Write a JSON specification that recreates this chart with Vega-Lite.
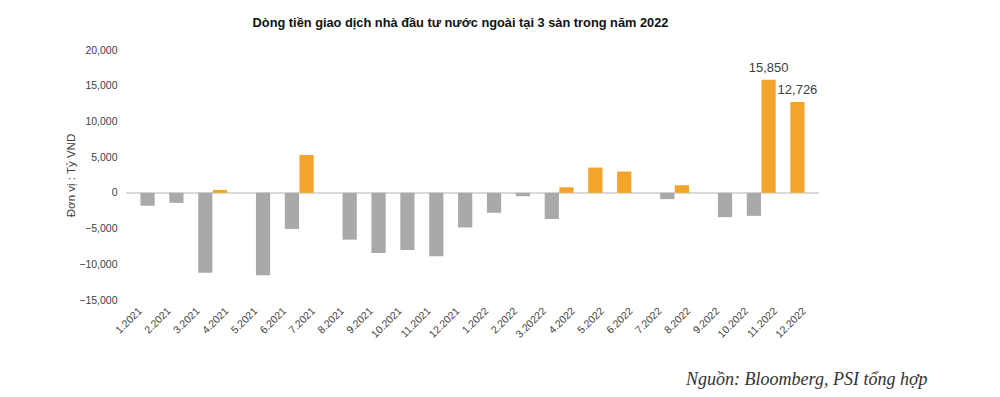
{
  "$schema": "https://vega.github.io/schema/vega-lite/v6.json",
  "autosize": "none",
  "width": 693,
  "height": 250,
  "padding": {"left": 126, "top": 50, "right": 181, "bottom": 97},
  "background": "white",
  "config": {"view": {"stroke": null}},
  "title": {
    "text": "Dòng tiền giao dịch nhà đầu tư nước ngoài tại 3 sàn trong năm 2022",
    "font": "Liberation Sans",
    "fontSize": 12.8,
    "fontWeight": "bold",
    "color": "#111111",
    "anchor": "middle",
    "frame": "group",
    "dx": -12,
    "offset": 15
  },
  "data": {
    "values": [
      {"month": "1.2021", "value": -1800, "series": "Bán ròng"},
      {"month": "2.2021", "value": -1400, "series": "Bán ròng"},
      {"month": "3.2021", "value": -11200, "series": "Bán ròng"},
      {"month": "4.2021", "value": 400, "series": "Mua ròng"},
      {"month": "5.2021", "value": -11550, "series": "Bán ròng"},
      {"month": "6.2021", "value": -5050, "series": "Bán ròng"},
      {"month": "7.2021", "value": 5300, "series": "Mua ròng"},
      {"month": "8.2021", "value": -6550, "series": "Bán ròng"},
      {"month": "9.2021", "value": -8420, "series": "Bán ròng"},
      {"month": "10.2021", "value": -8000, "series": "Bán ròng"},
      {"month": "11.2021", "value": -8880, "series": "Bán ròng"},
      {"month": "12.2021", "value": -4840, "series": "Bán ròng"},
      {"month": "1.2022", "value": -2790, "series": "Bán ròng"},
      {"month": "2.2022", "value": -470, "series": "Bán ròng"},
      {"month": "3.20222", "value": -3650, "series": "Bán ròng"},
      {"month": "4.2022", "value": 780, "series": "Mua ròng"},
      {"month": "5.2022", "value": 3540, "series": "Mua ròng"},
      {"month": "6.2022", "value": 2980, "series": "Mua ròng"},
      {"month": "7.2022", "value": -880, "series": "Bán ròng"},
      {"month": "8.2022", "value": 1070, "series": "Mua ròng"},
      {"month": "9.2022", "value": -3400, "series": "Bán ròng"},
      {"month": "10.2022", "value": -3220, "series": "Bán ròng"},
      {"month": "11.2022", "value": 15850, "series": "Mua ròng"},
      {"month": "12.2022", "value": 12726, "series": "Mua ròng"}
    ]
  },
  "encoding": {
    "x": {
      "field": "month",
      "type": "nominal",
      "sort": null,
      "scale": {"paddingInner": 0, "paddingOuter": 0},
      "axis": {
        "title": "Nguồn: Bloomberg, PSI tổng hợp",
        "titleFont": "Liberation Serif",
        "titleFontStyle": "italic",
        "titleFontWeight": "normal",
        "titleFontSize": 18,
        "titleColor": "#333333",
        "titleX": 801,
        "titleY": 84,
        "titleAlign": "right",
        "titleAnchor": null,
        "titleBaseline": "alphabetic",
        "labelAngle": -45,
        "labelAlign": "right",
        "labelBaseline": "middle",
        "labelPadding": 9,
        "labelFont": "Liberation Sans",
        "labelFontSize": 10.5,
        "labelColor": "#404040",
        "domain": false,
        "ticks": false,
        "grid": false
      }
    },
    "y": {
      "field": "value",
      "type": "quantitative",
      "scale": {"domain": [-15000, 20000], "nice": false},
      "axis": {
        "title": "Đơn vị : Tỷ VND",
        "titleFont": "Liberation Sans",
        "titleFontSize": 11.5,
        "titleFontWeight": "normal",
        "titleColor": "#404040",
        "titlePadding": 2,
        "values": [-15000, -10000, -5000, 0, 5000, 10000, 15000, 20000],
        "format": ",d",
        "labelFont": "Liberation Sans",
        "labelFontSize": 10.5,
        "labelColor": "#404040",
        "labelPadding": 9,
        "domain": false,
        "ticks": false,
        "grid": false
      }
    }
  },
  "layer": [
    {
      "mark": {"type": "rule", "color": "#D9D9D9", "strokeWidth": 1},
      "encoding": {"y": {"datum": 0}, "x": null}
    },
    {
      "mark": {"type": "bar"},
      "encoding": {
        "xOffset": {
          "field": "series",
          "type": "nominal",
          "scale": {"domain": ["Mua ròng", "Bán ròng"], "paddingInner": 0, "paddingOuter": 0.015}
        },
        "color": {
          "field": "series",
          "type": "nominal",
          "scale": {"domain": ["Mua ròng", "Bán ròng"], "range": ["#F4A42C", "#A9A9A9"]},
          "legend": null
        }
      }
    },
    {
      "transform": [{"filter": "datum.value > 10000"}],
      "mark": {"type": "text", "dy": -12, "font": "Liberation Sans", "fontSize": 13, "color": "#404040"},
      "encoding": {
        "xOffset": {
          "field": "series",
          "type": "nominal",
          "scale": {"domain": ["Mua ròng", "Bán ròng"], "paddingInner": 0, "paddingOuter": 0.015}
        },
        "text": {"field": "value", "type": "quantitative", "format": ",d"}
      }
    }
  ]
}
